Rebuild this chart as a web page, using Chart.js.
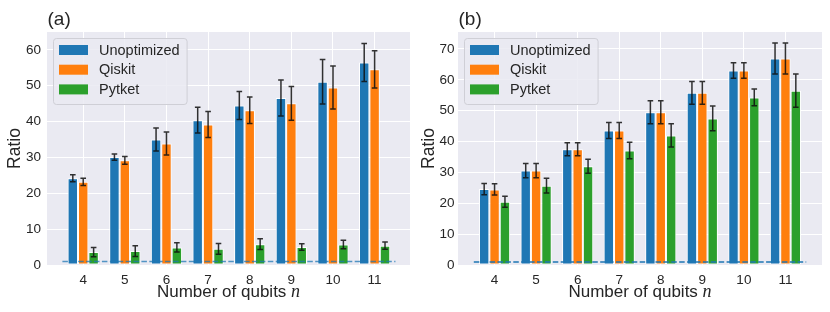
<!DOCTYPE html>
<html>
<head>
<meta charset="utf-8">
<script src="https://cdn.jsdelivr.net/npm/chart.js@4.4.0/dist/chart.umd.min.js"></script>
<style>
  html, body { margin: 0; padding: 0; background: #fff; }
  .panel { position: absolute; top: 0; width: 415px; height: 312px; }
</style>
</head>
<body>
<div class="panel" style="left:0"><canvas id="chartA" width="415" height="312"></canvas></div>
<div class="panel" style="left:415px"><canvas id="chartB" width="415" height="312"></canvas></div>
<script>
// ---- data ----
const qubits = [4, 5, 6, 7, 8, 9, 10, 11];
const seriesNames = ['Unoptimized', 'Qiskit', 'Pytket'];
const seriesColors = ['#1f77b4', '#ff7f0e', '#2ca02c'];

// panel (a)
const unoptA    = [24.2, 30.1, 35.0, 40.4, 44.5, 46.6, 51.1, 56.5];
const unoptErrA = [1.0, 0.9, 3.2, 3.6, 3.9, 5.0, 6.2, 5.3];
const qiskitA    = [23.2, 29.2, 33.9, 39.2, 43.2, 45.1, 49.5, 54.6];
const qiskitErrA = [1.0, 1.1, 3.2, 3.6, 3.7, 4.7, 6.0, 5.2];
const pytketA    = [3.6, 3.9, 4.9, 4.5, 5.8, 5.0, 5.7, 5.4];
const pytketErrA = [1.3, 1.5, 1.3, 1.5, 1.5, 0.9, 1.2, 1.0];
const yTicksA = [0, 10, 20, 30, 40, 50, 60];

// panel (b)
const unoptB    = [24.6, 30.6, 37.5, 43.6, 49.5, 55.8, 63.0, 66.9];
const unoptErrB = [1.8, 2.3, 2.1, 2.6, 3.7, 3.7, 2.5, 5.0];
const qiskitB    = [24.5, 30.6, 37.5, 43.6, 49.5, 55.8, 63.0, 66.9];
const qiskitErrB = [1.8, 2.3, 2.1, 2.6, 3.7, 3.7, 2.5, 5.0];
const pytketB    = [20.5, 25.7, 32.0, 37.1, 42.0, 47.5, 54.3, 56.5];
const pytketErrB = [1.8, 2.4, 2.3, 2.7, 3.8, 4.0, 2.7, 5.4];
const yTicksB = [0, 10, 20, 30, 40, 50, 60, 70];

// dashed reference line at ratio 1
const baselineValue = 1;
const baselineSpan = [3.5, 11.5];

const FONT = '"Liberation Sans", Arial, sans-serif';
const TEXT = '#262626';

// grey plot background (seaborn darkgrid look)
const plotBackground = {
  id: 'plotBackground',
  beforeDraw(chart) {
    const { ctx, chartArea: a } = chart;
    ctx.save();
    ctx.fillStyle = '#eaeaf2';
    ctx.fillRect(a.left, a.top, a.right - a.left, a.bottom - a.top);
    ctx.restore();
  }
};

// error bars with caps
const errorBars = {
  id: 'errorBars',
  afterDatasetsDraw(chart) {
    const ctx = chart.ctx, y = chart.scales.y;
    chart.data.datasets.forEach((ds, i) => {
      if (!ds.errors) return;
      chart.getDatasetMeta(i).data.forEach((bar, j) => {
        const v = ds.data[j].y, e = ds.errors[j];
        const top = y.getPixelForValue(v + e), bot = y.getPixelForValue(v - e);
        ctx.save();
        ctx.strokeStyle = 'rgba(15,15,15,0.85)';
        ctx.lineWidth = 1.5;
        ctx.beginPath();
        ctx.moveTo(bar.x, top); ctx.lineTo(bar.x, bot);
        ctx.moveTo(bar.x - 2.8, top); ctx.lineTo(bar.x + 2.8, top);
        ctx.moveTo(bar.x - 2.8, bot); ctx.lineTo(bar.x + 2.8, bot);
        ctx.stroke();
        ctx.restore();
      });
    });
  }
};

// panel letter, x title with italic n, and the legend box
const decorations = {
  id: 'decorations',
  afterDraw(chart, args, opts) {
    const { ctx, chartArea: a } = chart;
    ctx.save();
    ctx.fillStyle = TEXT;
    ctx.textBaseline = 'alphabetic';

    // panel letter
    ctx.font = '19px ' + FONT;
    ctx.textAlign = 'left';
    ctx.fillText(opts.letter, a.left + 0.5, 25);

    // x axis title
    const main = 'Number of qubits ';
    ctx.font = '17px ' + FONT;
    const w1 = ctx.measureText(main).width;
    ctx.font = 'italic 18px "Liberation Serif", serif';
    const w2 = ctx.measureText('n').width;
    const x0 = (a.left + a.right) / 2 - (w1 + w2) / 2;
    ctx.font = '17px ' + FONT;
    ctx.fillText(main, x0, 297);
    ctx.font = 'italic 18px "Liberation Serif", serif';
    ctx.fillText('n', x0 + w1, 297);

    // legend
    ctx.font = '14.5px ' + FONT;
    const sets = chart.data.datasets.filter(d => d.errors);
    const textW = Math.max(...sets.map(d => ctx.measureText(d.label).width));
    const bx = a.left + 6, by = a.top + 6;
    const bw = 46 + textW + 7, bh = 66;
    ctx.beginPath();
    ctx.roundRect(bx + 0.5, by + 0.5, bw, bh, 3);
    ctx.fillStyle = 'rgba(234,234,242,0.85)';
    ctx.fill();
    ctx.strokeStyle = '#cfcfd6';
    ctx.lineWidth = 1;
    ctx.stroke();
    sets.forEach((d, k) => {
      const cy = by + 12 + k * 19.7;
      ctx.fillStyle = d.backgroundColor;
      ctx.fillRect(bx + 6, cy - 5, 29, 10);
      ctx.fillStyle = TEXT;
      ctx.textBaseline = 'middle';
      ctx.fillText(d.label, bx + 46, cy + 0.5);
    });
    ctx.restore();
  }
};

function makeChart(id, cfg) {
  const datasets = seriesNames.map((name, k) => ({
    type: 'bar',
    label: name,
    data: qubits.map((q, i) => ({ x: q, y: cfg.values[k][i] })),
    errors: cfg.errors[k],
    backgroundColor: seriesColors[k],
    borderColor: '#ffffff',
    borderWidth: 1,
    borderSkipped: false,
    categoryPercentage: 0.75,
    barPercentage: 1
  }));
  datasets.push({
    type: 'line',
    label: 'baseline',
    data: baselineSpan.map(x => ({ x, y: baselineValue })),
    borderColor: cfg.lineColor,
    borderWidth: 1.5,
    borderDash: [5.5, 2.4],
    pointRadius: 0,
    order: -1
  });

  return new Chart(document.getElementById(id), {
    type: 'bar',
    data: { datasets },
    plugins: [plotBackground, errorBars, decorations],
    options: {
      responsive: false,
      animation: false,
      devicePixelRatio: 1,
      layout: { padding: { left: 0, right: cfg.padRight, top: cfg.padTop, bottom: 0 } },
      plugins: {
        legend: { display: false },
        tooltip: { enabled: false },
        decorations: { letter: cfg.letter }
      },
      scales: {
        x: {
          type: 'linear',
          min: cfg.xMin, max: cfg.xMax,
          offset: false,
          grid: { color: '#ffffff', lineWidth: 1, drawTicks: false, offset: false },
          border: { display: false },
          afterBuildTicks: s => { s.ticks = qubits.map(v => ({ value: v })); },
          afterFit: s => { s.height = 47; },
          ticks: { color: TEXT, font: { family: FONT, size: 13.5 }, padding: 7, autoSkip: false, maxRotation: 0 }
        },
        y: {
          min: 0, max: cfg.yMax,
          grid: { color: '#ffffff', lineWidth: 1, drawTicks: false },
          border: { display: false },
          afterBuildTicks: s => { s.ticks = cfg.yTicks.map(v => ({ value: v })); },
          afterFit: s => { s.width = cfg.yWidth; },
          ticks: { color: TEXT, font: { family: FONT, size: 13.5 }, padding: cfg.yPad },
          title: {
            display: true, text: 'Ratio', color: TEXT,
            font: { family: FONT, size: 17.5 },
            padding: { top: cfg.titlePad, bottom: 0 }
          }
        }
      }
    }
  });
}

makeChart('chartA', {
  letter: '(a)',
  values: [unoptA, qiskitA, pytketA],
  errors: [unoptErrA, qiskitErrA, pytketErrA],
  yTicks: yTicksA, yMax: 65,
  xMin: 3.13, xMax: 11.85,
  lineColor: 'rgba(31,119,180,0.75)',
  padTop: 32, padRight: 5, yWidth: 47, yPad: 6, titlePad: 5
});

makeChart('chartB', {
  letter: '(b)',
  values: [unoptB, qiskitB, pytketB],
  errors: [unoptErrB, qiskitErrB, pytketErrB],
  yTicks: yTicksB, yMax: 75.5,
  xMin: 3.12, xMax: 11.88,
  lineColor: '#1f77b4',
  padTop: 32, padRight: 8, yWidth: 43, yPad: 3.5, titlePad: 3.5
});
</script>
</body>
</html>
